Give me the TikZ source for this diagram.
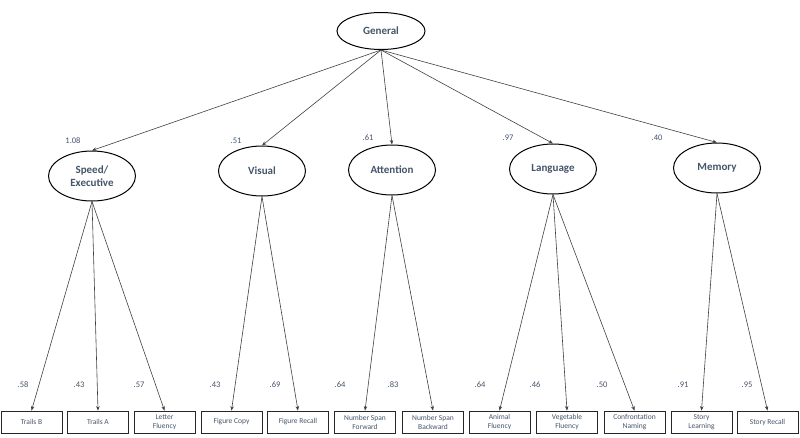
\documentclass[tikz,border=0pt]{standalone}
\usepackage{fontspec}
\setmainfont{Carlito}
\usetikzlibrary{shapes.geometric,arrows.meta}
\definecolor{txt}{HTML}{44546A}
\definecolor{ln}{HTML}{404040}
\begin{document}
\begin{tikzpicture}[x=1pt,y=-1pt,
  latent/.style={ellipse,draw=black,line width=1pt,minimum width=87pt,minimum height=50pt,inner sep=0pt,align=center,font=\fontsize{11}{13}\selectfont\bfseries,text=txt},
  obs/.style={rectangle,draw=black!85,line width=0.8pt,minimum width=61pt,minimum height=22pt,inner sep=0pt,align=center,font=\fontsize{7.5}{9}\selectfont,text=txt},
  load/.style={font=\fontsize{8.5}{10}\selectfont,text=txt,inner sep=0pt},
  arr/.style={draw=ln,line width=0.6pt,-{Stealth[length=4.5pt,width=3.5pt]}}]
\useasboundingbox (0,0) rectangle (800,437);
% latent variables
\node[latent,minimum width=88pt,minimum height=37pt] (gen) at (381,31) {General};
\node[latent] (spd) at (92,176) {Speed/\\Executive};
\node[latent] (vis) at (262,171) {Visual};
\node[latent] (att) at (392,170) {Attention};
\node[latent] (lan) at (553,169) {Language};
\node[latent] (mem) at (717,168) {Memory};
% observed
\node[obs] (tb) at (31.5,422) {Trails B};
\node[obs] (ta) at (98,422) {Trails A};
\node[obs] (lf) at (164.5,422) {Letter\\Fluency};
\node[obs] (fc) at (231.5,422) {Figure Copy};
\node[obs] (fr) at (298,422) {Figure Recall};
\node[obs] (nsf) at (365,422) {Number Span\\Forward};
\node[obs] (nsb) at (433,422) {Number Span\\Backward};
\node[obs] (af) at (499.5,422) {Animal\\Fluency};
\node[obs] (vf) at (567,422) {Vegetable\\Fluency};
\node[obs] (cn) at (634.5,422) {Confrontation\\Naming};
\node[obs] (sl) at (701.5,422) {Story\\Learning};
\node[obs] (sr) at (767.5,422) {Story Recall};
% general loadings
\foreach \t in {spd,vis,att,lan,mem} \draw[arr] (gen.south) -- (\t.north);
% specific loadings
\foreach \s/\t in {spd/tb,spd/ta,spd/lf,vis/fc,vis/fr,att/nsf,att/nsb,lan/af,lan/vf,lan/cn,mem/sl,mem/sr}
  \draw[arr] (\s.south) -- (\t.north);
% loading values
\node[load] (l1) at (73,141) {1.08};
\node[load] (l2) at (236,141) {.51};
\node[load] (l3) at (368,138) {.61};
\node[load] (l4) at (508,138) {.97};
\node[load] (l5) at (657,138) {.40};
\node[load] (m1) at (23,385) {.58};
\node[load] (m2) at (79,385) {.43};
\node[load] (m3) at (139,385) {.57};
\node[load] (m4) at (215,385) {.43};
\node[load] (m5) at (275,385) {.69};
\node[load] (m6) at (340,385) {.64};
\node[load] (m7) at (393,385) {.83};
\node[load] (m8) at (480,385) {.64};
\node[load] (m9) at (535,385) {.46};
\node[load] (m10) at (602,385) {.50};
\node[load] (m11) at (683,385) {.91};
\node[load] (m12) at (747,385) {.95};
\end{tikzpicture}
\end{document}
